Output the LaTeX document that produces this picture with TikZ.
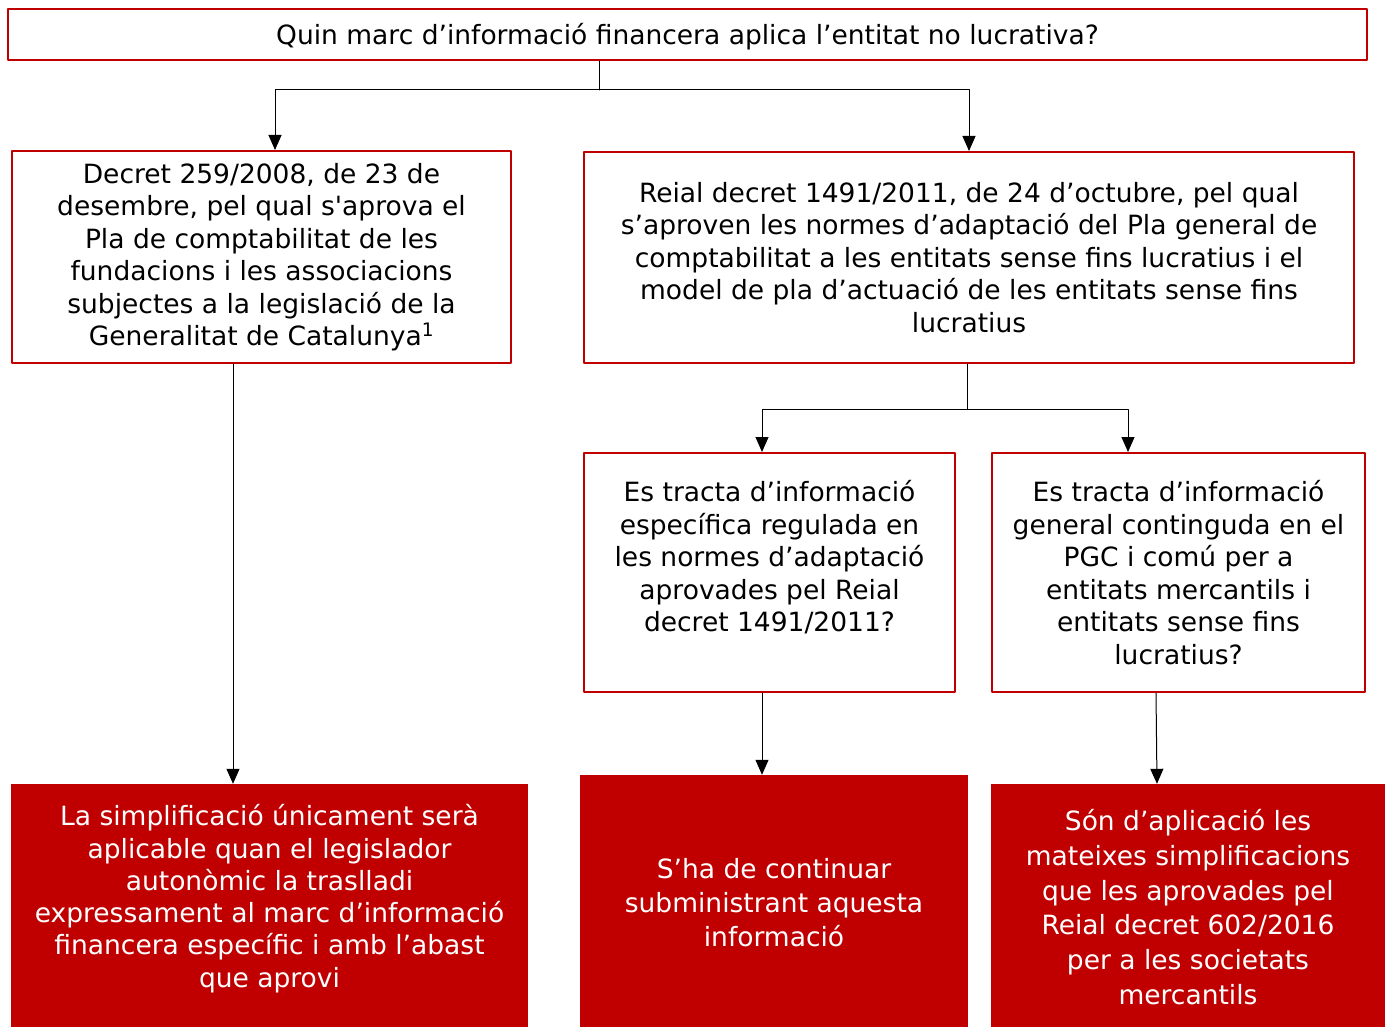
\documentclass[tikz,border=0pt]{standalone}
\usepackage{fontspec}
\setmainfont{DejaVu Sans}
\usepackage{xcolor}
\usetikzlibrary{arrows.meta,positioning}
\definecolor{vermell}{HTML}{C00000}
\tikzset{>={Triangle[length=15pt,width=13pt]}}
\tikzset{
	caixa/.style={draw=vermell,line width=2pt,fill=white,align=center,inner sep=0pt,
		font=\fontsize{26.5}{32.5}\selectfont},
	resultat/.style={fill=vermell,text=white,align=center,inner sep=0pt,
		font=\fontsize{26.5}{34.5}\selectfont},
	fletxa/.style={->,line width=1pt,black}
}
\begin{document}
\begin{tikzpicture}[line cap=round,line join=round,x=1pt,y=-1pt]
		\useasboundingbox (0,0) rectangle (1392,1027);
		% pregunta inicial
		\node[caixa,minimum width=1359pt,minimum height=51pt,text height=27pt,text depth=6pt] (pregunta) at (687.5,34.5) {Quin marc d’informació financera aplica l’entitat no lucrativa?};
		% marcs
		\node[caixa,minimum width=499pt,minimum height=212pt] (decret) at (261.5,257) {Decret 259/2008, de 23 de\\ desembre, pel qual s\textquotesingle aprova el\\ Pla de comptabilitat de les\\ fundacions i les associacions\\ subjectes a la legislació de la\\ Generalitat de Catalunya\textsuperscript{1}};
		\node[caixa,minimum width=770pt,minimum height=211pt] (reial) at (969,257.5) {Reial decret 1491/2011, de 24 d’octubre, pel qual\\ s’aproven les normes d’adaptació del Pla general de\\ comptabilitat a les entitats sense fins lucratius i el\\ model de pla d’actuació de les entitats sense fins\\ lucratius};
		% preguntes del reial decret
		\node[caixa,minimum width=371pt,minimum height=239pt] (especifica) at (769.5,572.5) {Es tracta d’informació\\ específica regulada en\\ les normes d’adaptació\\ aprovades pel Reial\\ decret 1491/2011?\\ \mbox{}};
		\node[caixa,minimum width=373pt,minimum height=239pt] (general) at (1178.5,572.5) {Es tracta d’informació\\ general continguda en el\\ PGC i comú per a\\ entitats mercantils i\\ entitats sense fins\\ lucratius?};
		% respostes
		\node[resultat,minimum width=517pt,minimum height=246pt,font=\fontsize{26.5}{32.3}\selectfont] (simplificacio) at (269.5,907) {La simplificació únicament serà\\ aplicable quan el legislador\\ autonòmic la traslladi\\ expressament al marc d’informació\\ financera específic i amb l’abast\\ que aprovi\\[-10pt] \mbox{}};
		\node[resultat,minimum width=388pt,minimum height=256pt,font=\fontsize{26.5}{34}\selectfont] (continuar) at (774,903) {S’ha de continuar\\ subministrant aquesta\\ informació};
		\node[resultat,minimum width=394pt,minimum height=246pt,font=\fontsize{26.5}{34.8}\selectfont] (aplicacio) at (1188,907) {Són d’aplicació les\\ mateixes simplificacions\\ que les aprovades pel\\ Reial decret 602/2016\\ per a les societats\\ mercantils};
		% connectors
		\coordinate (nus1) at (599,90);
		\coordinate (nus2) at (967,409);
		\draw[line width=1pt] (pregunta.south -| nus1) -- (nus1);
		\draw[fletxa] (nus1) -| ([xshift=13.5pt]decret.north);
		\draw[fletxa] (nus1) -| (reial.north);
		\draw[line width=1pt] (reial.south -| nus2) -- (nus2);
		\draw[fletxa] (nus2) -| ([xshift=-7.5pt]especifica.north);
		\draw[fletxa] (nus2) -| ([xshift=-50.5pt]general.north);
		\draw[fletxa] ([xshift=-28.5pt]decret.south) -- ([xshift=-36.5pt]simplificacio.north);
		\draw[fletxa] ([xshift=-7.5pt]especifica.south) -- ([xshift=-12pt]continuar.north);
		\draw[fletxa] ([xshift=-22.5pt]general.south) -- ([xshift=-31pt]aplicacio.north);
\end{tikzpicture}
\end{document}
